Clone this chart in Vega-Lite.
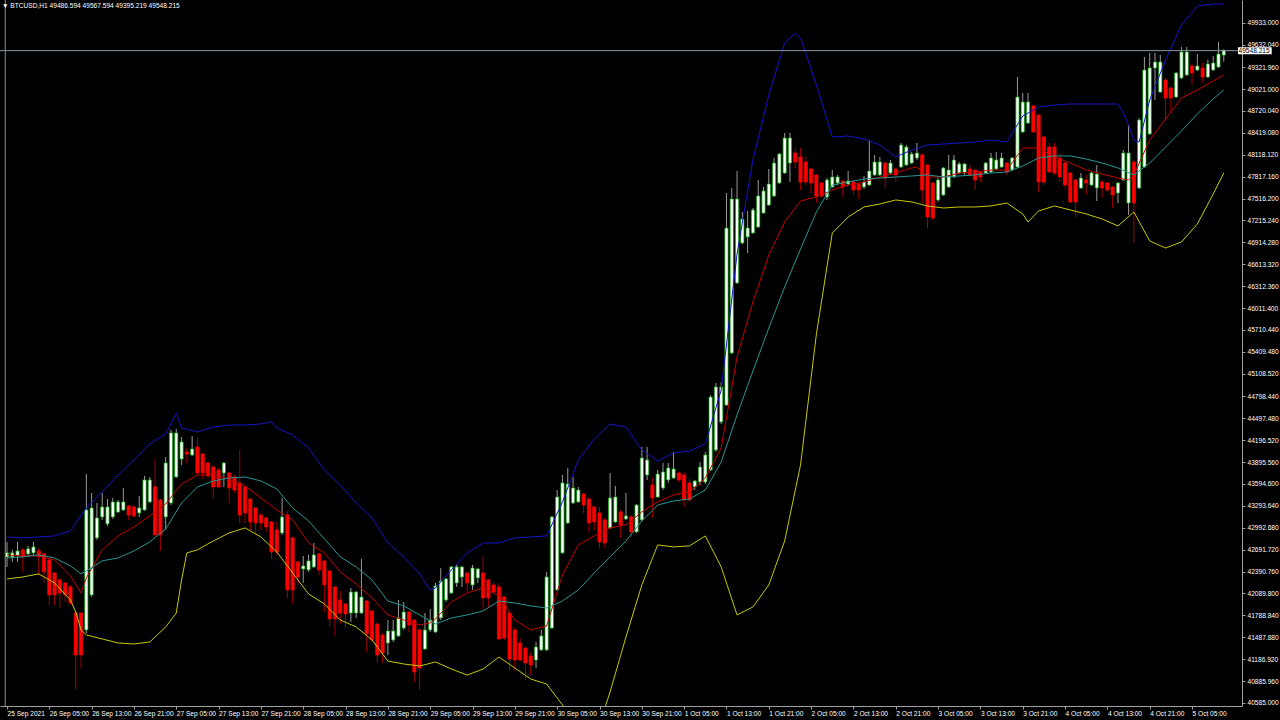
{
"$schema":"https://vega.github.io/schema/vega-lite/v6.json",
"width":1242,"height":706,
"autosize":{"type":"none"},
"padding":{"left":0,"top":0,"right":38,"bottom":14},
"background":"#000000",
"config":{"view":{"stroke":null},"font":"Liberation Sans","axis":{"labelOverlap":false,"labelBound":false}},
"title":{"text":"▼ BTCUSD,H1  49486.594 49567.594 49395.219 49548.215","anchor":"start","frame":"group","orient":"top","offset":-10,"dx":2,"color":"#ffffff","fontSize":6.6,"fontWeight":"normal","font":"Liberation Sans"},
"datasets":{
"c":[
{"t":"2021-09-25T21:00Z","o":42592,"h":42798,"l":42454,"c":42647},
{"t":"2021-09-25T22:00Z","o":42592,"h":42688,"l":42523,"c":42647},
{"t":"2021-09-25T23:00Z","o":42605,"h":42798,"l":42523,"c":42674},
{"t":"2021-09-26T00:00Z","o":42688,"h":42715,"l":42385,"c":42592},
{"t":"2021-09-26T01:00Z","o":42633,"h":42743,"l":42592,"c":42702},
{"t":"2021-09-26T02:00Z","o":42647,"h":42798,"l":42619,"c":42729},
{"t":"2021-09-26T03:00Z","o":42674,"h":42715,"l":42344,"c":42592},
{"t":"2021-09-26T04:00Z","o":42633,"h":42647,"l":42234,"c":42385},
{"t":"2021-09-26T05:00Z","o":42550,"h":42578,"l":41931,"c":42069},
{"t":"2021-09-26T06:00Z","o":42371,"h":42385,"l":41931,"c":42069},
{"t":"2021-09-26T07:00Z","o":42275,"h":42303,"l":41890,"c":42096},
{"t":"2021-09-26T08:00Z","o":42234,"h":42248,"l":41973,"c":42069},
{"t":"2021-09-26T09:00Z","o":42179,"h":42206,"l":41931,"c":41959},
{"t":"2021-09-26T10:00Z","o":41821,"h":41835,"l":40777,"c":41244},
{"t":"2021-09-26T11:00Z","o":41821,"h":41835,"l":41065,"c":41244},
{"t":"2021-09-26T12:00Z","o":41588,"h":43731,"l":41546,"c":43237},
{"t":"2021-09-26T13:00Z","o":42069,"h":43470,"l":42041,"c":43264},
{"t":"2021-09-26T14:00Z","o":42853,"h":43333,"l":42825,"c":43127},
{"t":"2021-09-26T15:00Z","o":43141,"h":43470,"l":43100,"c":43278},
{"t":"2021-09-26T16:00Z","o":43045,"h":43388,"l":43017,"c":43278},
{"t":"2021-09-26T17:00Z","o":43141,"h":43402,"l":43113,"c":43347},
{"t":"2021-09-26T18:00Z","o":43209,"h":43374,"l":43196,"c":43347},
{"t":"2021-09-26T19:00Z","o":43237,"h":43539,"l":43223,"c":43347},
{"t":"2021-09-26T20:00Z","o":43292,"h":43305,"l":43100,"c":43168},
{"t":"2021-09-26T21:00Z","o":43278,"h":43292,"l":43127,"c":43155},
{"t":"2021-09-26T22:00Z","o":43196,"h":43429,"l":43141,"c":43264},
{"t":"2021-09-26T23:00Z","o":43237,"h":43704,"l":43223,"c":43649},
{"t":"2021-09-27T00:00Z","o":43347,"h":43690,"l":43333,"c":43649},
{"t":"2021-09-27T01:00Z","o":43553,"h":43937,"l":42880,"c":42894},
{"t":"2021-09-27T02:00Z","o":43374,"h":43388,"l":42674,"c":42894},
{"t":"2021-09-27T03:00Z","o":43141,"h":43965,"l":42962,"c":43882},
{"t":"2021-09-27T04:00Z","o":43333,"h":44336,"l":43305,"c":44295},
{"t":"2021-09-27T05:00Z","o":43690,"h":44350,"l":43676,"c":44295},
{"t":"2021-09-27T06:00Z","o":43937,"h":44240,"l":43855,"c":44171},
{"t":"2021-09-27T07:00Z","o":44034,"h":44088,"l":43882,"c":44006},
{"t":"2021-09-27T08:00Z","o":43992,"h":44253,"l":43979,"c":44075},
{"t":"2021-09-27T09:00Z","o":44102,"h":44226,"l":43717,"c":43745},
{"t":"2021-09-27T10:00Z","o":44006,"h":44020,"l":43663,"c":43745},
{"t":"2021-09-27T11:00Z","o":43882,"h":43896,"l":43676,"c":43704},
{"t":"2021-09-27T12:00Z","o":43827,"h":43855,"l":43388,"c":43553},
{"t":"2021-09-27T13:00Z","o":43786,"h":43814,"l":43539,"c":43553},
{"t":"2021-09-27T14:00Z","o":43745,"h":43896,"l":43553,"c":43882},
{"t":"2021-09-27T15:00Z","o":43745,"h":43759,"l":43333,"c":43539},
{"t":"2021-09-27T16:00Z","o":43690,"h":43717,"l":43470,"c":43511},
{"t":"2021-09-27T17:00Z","o":43608,"h":44061,"l":43058,"c":43168},
{"t":"2021-09-27T18:00Z","o":43553,"h":43566,"l":43058,"c":43196},
{"t":"2021-09-27T19:00Z","o":43388,"h":43402,"l":42962,"c":43072},
{"t":"2021-09-27T20:00Z","o":43264,"h":43278,"l":42921,"c":43058},
{"t":"2021-09-27T21:00Z","o":43168,"h":43196,"l":42962,"c":43058},
{"t":"2021-09-27T22:00Z","o":43127,"h":43141,"l":42935,"c":43004},
{"t":"2021-09-27T23:00Z","o":43072,"h":43086,"l":42564,"c":42660},
{"t":"2021-09-28T00:00Z","o":42962,"h":43072,"l":42619,"c":42660},
{"t":"2021-09-28T01:00Z","o":42921,"h":43402,"l":42894,"c":43141},
{"t":"2021-09-28T02:00Z","o":43168,"h":43223,"l":42028,"c":42138},
{"t":"2021-09-28T03:00Z","o":42853,"h":42866,"l":41945,"c":42138},
{"t":"2021-09-28T04:00Z","o":42523,"h":42537,"l":42206,"c":42316},
{"t":"2021-09-28T05:00Z","o":42426,"h":42605,"l":42234,"c":42468},
{"t":"2021-09-28T06:00Z","o":42413,"h":42619,"l":42385,"c":42537},
{"t":"2021-09-28T07:00Z","o":42454,"h":42784,"l":42440,"c":42619},
{"t":"2021-09-28T08:00Z","o":42633,"h":42647,"l":42344,"c":42413},
{"t":"2021-09-28T09:00Z","o":42537,"h":42550,"l":41835,"c":42206},
{"t":"2021-09-28T10:00Z","o":42399,"h":42413,"l":41629,"c":41739},
{"t":"2021-09-28T11:00Z","o":42179,"h":42193,"l":41505,"c":41739},
{"t":"2021-09-28T12:00Z","o":42000,"h":42124,"l":41670,"c":41821},
{"t":"2021-09-28T13:00Z","o":41945,"h":41959,"l":41615,"c":41808},
{"t":"2021-09-28T14:00Z","o":41821,"h":42165,"l":41698,"c":42110},
{"t":"2021-09-28T15:00Z","o":41821,"h":42124,"l":41753,"c":42110},
{"t":"2021-09-28T16:00Z","o":41821,"h":42564,"l":41808,"c":42041},
{"t":"2021-09-28T17:00Z","o":41986,"h":42000,"l":41285,"c":41533},
{"t":"2021-09-28T18:00Z","o":41849,"h":41863,"l":41423,"c":41450},
{"t":"2021-09-28T19:00Z","o":41670,"h":41684,"l":41134,"c":41244},
{"t":"2021-09-28T20:00Z","o":41519,"h":41546,"l":41134,"c":41271},
{"t":"2021-09-28T21:00Z","o":41409,"h":41725,"l":41244,"c":41574},
{"t":"2021-09-28T22:00Z","o":41450,"h":41725,"l":41423,"c":41574},
{"t":"2021-09-28T23:00Z","o":41505,"h":42000,"l":41491,"c":41753},
{"t":"2021-09-29T00:00Z","o":41615,"h":41973,"l":41588,"c":41835},
{"t":"2021-09-29T01:00Z","o":41835,"h":41849,"l":41560,"c":41656},
{"t":"2021-09-29T02:00Z","o":41725,"h":41739,"l":40873,"c":41010},
{"t":"2021-09-29T03:00Z","o":41588,"h":41615,"l":40763,"c":41065},
{"t":"2021-09-29T04:00Z","o":41326,"h":41821,"l":41313,"c":41588},
{"t":"2021-09-29T05:00Z","o":41588,"h":41876,"l":41560,"c":41725},
{"t":"2021-09-29T06:00Z","o":41560,"h":42234,"l":41546,"c":42193},
{"t":"2021-09-29T07:00Z","o":41753,"h":42440,"l":41725,"c":42261},
{"t":"2021-09-29T08:00Z","o":42000,"h":42303,"l":41973,"c":42289},
{"t":"2021-09-29T09:00Z","o":42096,"h":42468,"l":42083,"c":42454},
{"t":"2021-09-29T10:00Z","o":42234,"h":42481,"l":42179,"c":42454},
{"t":"2021-09-29T11:00Z","o":42316,"h":42468,"l":42179,"c":42454},
{"t":"2021-09-29T12:00Z","o":42371,"h":42385,"l":42110,"c":42234},
{"t":"2021-09-29T13:00Z","o":42206,"h":42481,"l":42138,"c":42440},
{"t":"2021-09-29T14:00Z","o":42303,"h":42440,"l":42234,"c":42426},
{"t":"2021-09-29T15:00Z","o":42371,"h":42592,"l":41863,"c":42028},
{"t":"2021-09-29T16:00Z","o":42275,"h":42289,"l":41890,"c":42028},
{"t":"2021-09-29T17:00Z","o":42206,"h":42234,"l":42096,"c":42110},
{"t":"2021-09-29T18:00Z","o":42179,"h":42234,"l":41450,"c":41464},
{"t":"2021-09-29T19:00Z","o":42041,"h":42055,"l":41450,"c":41478},
{"t":"2021-09-29T20:00Z","o":41821,"h":41835,"l":41038,"c":41189},
{"t":"2021-09-29T21:00Z","o":41588,"h":41629,"l":41038,"c":41175},
{"t":"2021-09-29T22:00Z","o":41409,"h":41478,"l":41161,"c":41175},
{"t":"2021-09-29T23:00Z","o":41340,"h":41354,"l":40900,"c":41134},
{"t":"2021-09-30T00:00Z","o":41230,"h":41285,"l":40968,"c":41106},
{"t":"2021-09-30T01:00Z","o":41175,"h":41423,"l":41065,"c":41354},
{"t":"2021-09-30T02:00Z","o":41313,"h":41588,"l":41299,"c":41505},
{"t":"2021-09-30T03:00Z","o":41313,"h":42385,"l":41299,"c":42316},
{"t":"2021-09-30T04:00Z","o":41615,"h":43155,"l":41601,"c":43141},
{"t":"2021-09-30T05:00Z","o":42138,"h":43511,"l":42124,"c":43415},
{"t":"2021-09-30T06:00Z","o":42647,"h":43717,"l":42633,"c":43608},
{"t":"2021-09-30T07:00Z","o":43058,"h":43814,"l":43045,"c":43594},
{"t":"2021-09-30T08:00Z","o":43333,"h":43690,"l":43319,"c":43539},
{"t":"2021-09-30T09:00Z","o":43347,"h":43553,"l":43333,"c":43511},
{"t":"2021-09-30T10:00Z","o":43456,"h":43470,"l":43196,"c":43305},
{"t":"2021-09-30T11:00Z","o":43388,"h":43415,"l":42921,"c":43058},
{"t":"2021-09-30T12:00Z","o":43278,"h":43292,"l":42962,"c":43072},
{"t":"2021-09-30T13:00Z","o":43196,"h":43278,"l":42715,"c":42798},
{"t":"2021-09-30T14:00Z","o":43100,"h":43127,"l":42715,"c":42784},
{"t":"2021-09-30T15:00Z","o":42990,"h":43745,"l":42976,"c":43402},
{"t":"2021-09-30T16:00Z","o":43072,"h":43566,"l":43058,"c":43415},
{"t":"2021-09-30T17:00Z","o":43209,"h":43237,"l":42853,"c":43031},
{"t":"2021-09-30T18:00Z","o":43113,"h":43470,"l":43100,"c":43155},
{"t":"2021-09-30T19:00Z","o":43141,"h":43168,"l":42866,"c":42935},
{"t":"2021-09-30T20:00Z","o":42935,"h":43319,"l":42921,"c":43305},
{"t":"2021-09-30T21:00Z","o":43100,"h":44102,"l":43086,"c":43951},
{"t":"2021-09-30T22:00Z","o":43717,"h":44102,"l":43649,"c":43924},
{"t":"2021-09-30T23:00Z","o":43580,"h":43676,"l":43127,"c":43402},
{"t":"2021-10-01T00:00Z","o":43415,"h":43786,"l":43402,"c":43731},
{"t":"2021-10-01T01:00Z","o":43539,"h":43882,"l":43511,"c":43759},
{"t":"2021-10-01T02:00Z","o":43649,"h":43882,"l":43608,"c":43814},
{"t":"2021-10-01T03:00Z","o":43676,"h":44034,"l":43663,"c":43800},
{"t":"2021-10-01T04:00Z","o":43745,"h":43759,"l":43621,"c":43649},
{"t":"2021-10-01T05:00Z","o":43717,"h":43759,"l":43278,"c":43374},
{"t":"2021-10-01T06:00Z","o":43608,"h":43663,"l":43347,"c":43374},
{"t":"2021-10-01T07:00Z","o":43553,"h":43649,"l":43511,"c":43635},
{"t":"2021-10-01T08:00Z","o":43621,"h":43896,"l":43580,"c":43827},
{"t":"2021-10-01T09:00Z","o":43621,"h":44034,"l":43594,"c":43992},
{"t":"2021-10-01T10:00Z","o":43786,"h":44817,"l":43772,"c":44789},
{"t":"2021-10-01T11:00Z","o":44061,"h":44982,"l":44034,"c":44927},
{"t":"2021-10-01T12:00Z","o":44446,"h":44995,"l":44418,"c":44927},
{"t":"2021-10-01T13:00Z","o":44679,"h":47592,"l":44666,"c":47111},
{"t":"2021-10-01T14:00Z","o":45394,"h":47661,"l":45380,"c":47510},
{"t":"2021-10-01T15:00Z","o":46356,"h":47894,"l":46342,"c":47510},
{"t":"2021-10-01T16:00Z","o":46905,"h":47331,"l":46891,"c":47235},
{"t":"2021-10-01T17:00Z","o":46988,"h":47345,"l":46768,"c":47111},
{"t":"2021-10-01T18:00Z","o":47043,"h":47386,"l":47029,"c":47359},
{"t":"2021-10-01T19:00Z","o":47125,"h":47771,"l":47111,"c":47551},
{"t":"2021-10-01T20:00Z","o":47317,"h":47675,"l":47304,"c":47620},
{"t":"2021-10-01T21:00Z","o":47427,"h":47922,"l":47414,"c":47716},
{"t":"2021-10-01T22:00Z","o":47551,"h":48073,"l":47537,"c":48004},
{"t":"2021-10-01T23:00Z","o":47730,"h":48142,"l":47716,"c":48128},
{"t":"2021-10-02T00:00Z","o":47867,"h":48417,"l":47853,"c":48348},
{"t":"2021-10-02T01:00Z","o":48004,"h":48417,"l":47743,"c":48348},
{"t":"2021-10-02T02:00Z","o":48142,"h":48210,"l":47936,"c":48018},
{"t":"2021-10-02T03:00Z","o":48087,"h":48210,"l":47633,"c":47743},
{"t":"2021-10-02T04:00Z","o":48018,"h":48087,"l":47702,"c":47743},
{"t":"2021-10-02T05:00Z","o":47922,"h":47936,"l":47592,"c":47730},
{"t":"2021-10-02T06:00Z","o":47840,"h":47853,"l":47455,"c":47551},
{"t":"2021-10-02T07:00Z","o":47730,"h":47743,"l":47523,"c":47551},
{"t":"2021-10-02T08:00Z","o":47537,"h":47798,"l":47496,"c":47771},
{"t":"2021-10-02T09:00Z","o":47675,"h":47908,"l":47661,"c":47812},
{"t":"2021-10-02T10:00Z","o":47730,"h":47840,"l":47702,"c":47812},
{"t":"2021-10-02T11:00Z","o":47757,"h":47771,"l":47537,"c":47675},
{"t":"2021-10-02T12:00Z","o":47716,"h":47894,"l":47688,"c":47757},
{"t":"2021-10-02T13:00Z","o":47743,"h":47771,"l":47565,"c":47633},
{"t":"2021-10-02T14:00Z","o":47716,"h":47730,"l":47510,"c":47633},
{"t":"2021-10-02T15:00Z","o":47675,"h":47826,"l":47647,"c":47743},
{"t":"2021-10-02T16:00Z","o":47702,"h":48320,"l":47688,"c":47894},
{"t":"2021-10-02T17:00Z","o":47840,"h":48114,"l":47826,"c":48018},
{"t":"2021-10-02T18:00Z","o":47840,"h":48087,"l":47826,"c":48018},
{"t":"2021-10-02T19:00Z","o":48004,"h":48018,"l":47661,"c":47798},
{"t":"2021-10-02T20:00Z","o":47867,"h":48046,"l":47853,"c":48004},
{"t":"2021-10-02T21:00Z","o":47922,"h":47936,"l":47743,"c":47840},
{"t":"2021-10-02T22:00Z","o":47949,"h":48279,"l":47936,"c":48252},
{"t":"2021-10-02T23:00Z","o":47977,"h":48252,"l":47963,"c":48224},
{"t":"2021-10-03T00:00Z","o":48004,"h":48155,"l":47991,"c":48128},
{"t":"2021-10-03T01:00Z","o":48073,"h":48279,"l":48046,"c":48142},
{"t":"2021-10-03T02:00Z","o":48114,"h":48142,"l":47455,"c":47633},
{"t":"2021-10-03T03:00Z","o":47977,"h":47991,"l":47111,"c":47262},
{"t":"2021-10-03T04:00Z","o":47730,"h":47743,"l":47221,"c":47249},
{"t":"2021-10-03T05:00Z","o":47496,"h":47798,"l":47469,"c":47771},
{"t":"2021-10-03T06:00Z","o":47565,"h":47949,"l":47551,"c":47936},
{"t":"2021-10-03T07:00Z","o":47675,"h":48114,"l":47661,"c":47908},
{"t":"2021-10-03T08:00Z","o":47812,"h":48114,"l":47798,"c":48046},
{"t":"2021-10-03T09:00Z","o":47867,"h":48018,"l":47853,"c":47991},
{"t":"2021-10-03T10:00Z","o":47867,"h":48004,"l":47840,"c":47991},
{"t":"2021-10-03T11:00Z","o":47922,"h":47977,"l":47826,"c":47840},
{"t":"2021-10-03T12:00Z","o":47908,"h":47922,"l":47633,"c":47771},
{"t":"2021-10-03T13:00Z","o":47881,"h":47894,"l":47743,"c":47812},
{"t":"2021-10-03T14:00Z","o":47867,"h":48018,"l":47853,"c":48004},
{"t":"2021-10-03T15:00Z","o":47881,"h":48142,"l":47867,"c":48073},
{"t":"2021-10-03T16:00Z","o":47922,"h":48155,"l":47908,"c":48046},
{"t":"2021-10-03T17:00Z","o":47949,"h":48142,"l":47936,"c":48073},
{"t":"2021-10-03T18:00Z","o":48004,"h":48018,"l":47840,"c":47881},
{"t":"2021-10-03T19:00Z","o":47908,"h":48087,"l":47894,"c":48073},
{"t":"2021-10-03T20:00Z","o":47949,"h":49186,"l":47936,"c":48911},
{"t":"2021-10-03T21:00Z","o":48430,"h":48966,"l":48417,"c":48843},
{"t":"2021-10-03T22:00Z","o":48554,"h":48966,"l":48540,"c":48843},
{"t":"2021-10-03T23:00Z","o":48788,"h":48801,"l":48417,"c":48430},
{"t":"2021-10-04T00:00Z","o":48664,"h":48678,"l":47606,"c":47743},
{"t":"2021-10-04T01:00Z","o":48362,"h":48375,"l":47702,"c":47743},
{"t":"2021-10-04T02:00Z","o":48224,"h":48279,"l":47867,"c":47881},
{"t":"2021-10-04T03:00Z","o":48224,"h":48279,"l":47840,"c":47867},
{"t":"2021-10-04T04:00Z","o":48073,"h":48142,"l":47743,"c":47812},
{"t":"2021-10-04T05:00Z","o":48004,"h":48018,"l":47661,"c":47702},
{"t":"2021-10-04T06:00Z","o":47867,"h":47881,"l":47455,"c":47469},
{"t":"2021-10-04T07:00Z","o":47771,"h":47785,"l":47262,"c":47469},
{"t":"2021-10-04T08:00Z","o":47661,"h":47867,"l":47647,"c":47798},
{"t":"2021-10-04T09:00Z","o":47771,"h":47840,"l":47565,"c":47730},
{"t":"2021-10-04T10:00Z","o":47702,"h":47881,"l":47688,"c":47867},
{"t":"2021-10-04T11:00Z","o":47661,"h":47977,"l":47482,"c":47853},
{"t":"2021-10-04T12:00Z","o":47743,"h":47771,"l":47523,"c":47661},
{"t":"2021-10-04T13:00Z","o":47730,"h":47743,"l":47606,"c":47633},
{"t":"2021-10-04T14:00Z","o":47675,"h":47688,"l":47386,"c":47565},
{"t":"2021-10-04T15:00Z","o":47592,"h":47743,"l":47455,"c":47730},
{"t":"2021-10-04T16:00Z","o":47771,"h":48183,"l":47757,"c":48142},
{"t":"2021-10-04T17:00Z","o":47455,"h":48526,"l":47290,"c":48142},
{"t":"2021-10-04T18:00Z","o":48018,"h":48046,"l":46905,"c":47455},
{"t":"2021-10-04T19:00Z","o":47661,"h":48623,"l":47647,"c":48595},
{"t":"2021-10-04T20:00Z","o":47949,"h":49461,"l":47936,"c":49282},
{"t":"2021-10-04T21:00Z","o":48403,"h":49516,"l":48389,"c":49310},
{"t":"2021-10-04T22:00Z","o":49310,"h":49516,"l":48870,"c":49392},
{"t":"2021-10-04T23:00Z","o":48980,"h":49488,"l":48966,"c":49392},
{"t":"2021-10-05T00:00Z","o":49145,"h":49172,"l":48595,"c":48897},
{"t":"2021-10-05T01:00Z","o":49035,"h":49049,"l":48691,"c":48897},
{"t":"2021-10-05T02:00Z","o":48911,"h":49255,"l":48897,"c":49241},
{"t":"2021-10-05T03:00Z","o":49172,"h":49598,"l":49159,"c":49530},
{"t":"2021-10-05T04:00Z","o":49214,"h":49598,"l":49200,"c":49530},
{"t":"2021-10-05T05:00Z","o":49337,"h":49378,"l":49076,"c":49241},
{"t":"2021-10-05T06:00Z","o":49282,"h":49502,"l":49268,"c":49337},
{"t":"2021-10-05T07:00Z","o":49310,"h":49378,"l":49117,"c":49186},
{"t":"2021-10-05T08:00Z","o":49186,"h":49420,"l":49172,"c":49365},
{"t":"2021-10-05T09:00Z","o":49282,"h":49475,"l":49268,"c":49378},
{"t":"2021-10-05T10:00Z","o":49323,"h":49667,"l":49310,"c":49502},
{"t":"2021-10-05T11:00Z","o":49486.594,"h":49567.594,"l":49395.219,"c":49548.215}
],
"b":[
{"s":"u","t":"2021-09-25T21:00Z","v":42866},{"s":"u","t":"2021-09-26T00:00Z","v":42853},{"s":"u","t":"2021-09-26T03:00Z","v":42866},{"s":"u","t":"2021-09-26T06:00Z","v":42880},{"s":"u","t":"2021-09-26T09:00Z","v":42949},{"s":"u","t":"2021-09-26T12:00Z","v":43264},{"s":"u","t":"2021-09-26T15:00Z","v":43484},{"s":"u","t":"2021-09-26T18:00Z","v":43717},{"s":"u","t":"2021-09-26T21:00Z","v":43924},{"s":"u","t":"2021-09-27T00:00Z","v":44144},{"s":"u","t":"2021-09-27T03:00Z","v":44281},{"s":"u","t":"2021-09-27T05:00Z","v":44570},{"s":"u","t":"2021-09-27T06:00Z","v":44363},{"s":"u","t":"2021-09-27T09:00Z","v":44308},{"s":"u","t":"2021-09-27T12:00Z","v":44377},{"s":"u","t":"2021-09-27T15:00Z","v":44404},{"s":"u","t":"2021-09-27T18:00Z","v":44404},{"s":"u","t":"2021-09-27T21:00Z","v":44418},{"s":"u","t":"2021-09-27T23:00Z","v":44446},{"s":"u","t":"2021-09-28T00:00Z","v":44363},{"s":"u","t":"2021-09-28T03:00Z","v":44267},{"s":"u","t":"2021-09-28T06:00Z","v":44088},{"s":"u","t":"2021-09-28T09:00Z","v":43786},{"s":"u","t":"2021-09-28T12:00Z","v":43580},{"s":"u","t":"2021-09-28T15:00Z","v":43333},{"s":"u","t":"2021-09-28T18:00Z","v":43127},{"s":"u","t":"2021-09-28T21:00Z","v":42784},{"s":"u","t":"2021-09-29T00:00Z","v":42592},{"s":"u","t":"2021-09-29T03:00Z","v":42358},{"s":"u","t":"2021-09-29T05:00Z","v":42138},{"s":"u","t":"2021-09-29T06:00Z","v":42165},{"s":"u","t":"2021-09-29T09:00Z","v":42413},{"s":"u","t":"2021-09-29T12:00Z","v":42647},{"s":"u","t":"2021-09-29T15:00Z","v":42784},{"s":"u","t":"2021-09-29T18:00Z","v":42784},{"s":"u","t":"2021-09-29T21:00Z","v":42853},{"s":"u","t":"2021-09-30T00:00Z","v":42866},{"s":"u","t":"2021-09-30T03:00Z","v":42880},{"s":"u","t":"2021-09-30T06:00Z","v":43347},{"s":"u","t":"2021-09-30T09:00Z","v":43924},{"s":"u","t":"2021-09-30T12:00Z","v":44212},{"s":"u","t":"2021-09-30T15:00Z","v":44418},{"s":"u","t":"2021-09-30T18:00Z","v":44377},{"s":"u","t":"2021-09-30T21:00Z","v":44061},{"s":"u","t":"2021-10-01T00:00Z","v":43910},{"s":"u","t":"2021-10-01T03:00Z","v":44020},{"s":"u","t":"2021-10-01T06:00Z","v":44047},{"s":"u","t":"2021-10-01T09:00Z","v":44144},{"s":"u","t":"2021-10-01T12:00Z","v":44885},{"s":"u","t":"2021-10-01T15:00Z","v":46754},{"s":"u","t":"2021-10-01T18:00Z","v":48046},{"s":"u","t":"2021-10-01T21:00Z","v":48939},{"s":"u","t":"2021-10-02T00:00Z","v":49653},{"s":"u","t":"2021-10-02T02:00Z","v":49791},{"s":"u","t":"2021-10-02T03:00Z","v":49722},{"s":"u","t":"2021-10-02T06:00Z","v":49076},{"s":"u","t":"2021-10-02T09:00Z","v":48362},{"s":"u","t":"2021-10-02T12:00Z","v":48375},{"s":"u","t":"2021-10-02T15:00Z","v":48334},{"s":"u","t":"2021-10-02T18:00Z","v":48252},{"s":"u","t":"2021-10-02T21:00Z","v":48087},{"s":"u","t":"2021-10-03T00:00Z","v":48183},{"s":"u","t":"2021-10-03T03:00Z","v":48252},{"s":"u","t":"2021-10-03T06:00Z","v":48265},{"s":"u","t":"2021-10-03T09:00Z","v":48279},{"s":"u","t":"2021-10-03T12:00Z","v":48293},{"s":"u","t":"2021-10-03T15:00Z","v":48320},{"s":"u","t":"2021-10-03T18:00Z","v":48293},{"s":"u","t":"2021-10-03T21:00Z","v":48650},{"s":"u","t":"2021-10-04T00:00Z","v":48774},{"s":"u","t":"2021-10-04T03:00Z","v":48801},{"s":"u","t":"2021-10-04T06:00Z","v":48815},{"s":"u","t":"2021-10-04T09:00Z","v":48815},{"s":"u","t":"2021-10-04T12:00Z","v":48815},{"s":"u","t":"2021-10-04T15:00Z","v":48815},{"s":"u","t":"2021-10-04T16:00Z","v":48691},{"s":"u","t":"2021-10-04T17:00Z","v":48526},{"s":"u","t":"2021-10-04T18:00Z","v":48320},{"s":"u","t":"2021-10-04T19:00Z","v":48293},{"s":"u","t":"2021-10-04T21:00Z","v":48870},{"s":"u","t":"2021-10-05T00:00Z","v":49420},{"s":"u","t":"2021-10-05T03:00Z","v":49900},{"s":"u","t":"2021-10-05T06:00Z","v":50162},{"s":"u","t":"2021-10-05T09:00Z","v":50189},{"s":"u","t":"2021-10-05T11:00Z","v":50189},
{"s":"r","t":"2021-09-25T21:00Z","v":42619},{"s":"r","t":"2021-09-26T00:00Z","v":42605},{"s":"r","t":"2021-09-26T03:00Z","v":42605},{"s":"r","t":"2021-09-26T06:00Z","v":42550},{"s":"r","t":"2021-09-26T09:00Z","v":42330},{"s":"r","t":"2021-09-26T11:00Z","v":42096},{"s":"r","t":"2021-09-26T12:00Z","v":42303},{"s":"r","t":"2021-09-26T15:00Z","v":42688},{"s":"r","t":"2021-09-26T18:00Z","v":42880},{"s":"r","t":"2021-09-26T21:00Z","v":43004},{"s":"r","t":"2021-09-27T00:00Z","v":43155},{"s":"r","t":"2021-09-27T03:00Z","v":43319},{"s":"r","t":"2021-09-27T06:00Z","v":43594},{"s":"r","t":"2021-09-27T09:00Z","v":43717},{"s":"r","t":"2021-09-27T12:00Z","v":43717},{"s":"r","t":"2021-09-27T15:00Z","v":43663},{"s":"r","t":"2021-09-27T18:00Z","v":43566},{"s":"r","t":"2021-09-27T21:00Z","v":43402},{"s":"r","t":"2021-09-28T00:00Z","v":43237},{"s":"r","t":"2021-09-28T03:00Z","v":43100},{"s":"r","t":"2021-09-28T06:00Z","v":42784},{"s":"r","t":"2021-09-28T09:00Z","v":42647},{"s":"r","t":"2021-09-28T12:00Z","v":42385},{"s":"r","t":"2021-09-28T15:00Z","v":42220},{"s":"r","t":"2021-09-28T18:00Z","v":42028},{"s":"r","t":"2021-09-28T21:00Z","v":41794},{"s":"r","t":"2021-09-29T00:00Z","v":41725},{"s":"r","t":"2021-09-29T03:00Z","v":41656},{"s":"r","t":"2021-09-29T05:00Z","v":41684},{"s":"r","t":"2021-09-29T06:00Z","v":41739},{"s":"r","t":"2021-09-29T09:00Z","v":41973},{"s":"r","t":"2021-09-29T12:00Z","v":42096},{"s":"r","t":"2021-09-29T15:00Z","v":42165},{"s":"r","t":"2021-09-29T18:00Z","v":42055},{"s":"r","t":"2021-09-29T21:00Z","v":41725},{"s":"r","t":"2021-09-30T00:00Z","v":41588},{"s":"r","t":"2021-09-30T03:00Z","v":41643},{"s":"r","t":"2021-09-30T06:00Z","v":42344},{"s":"r","t":"2021-09-30T09:00Z","v":42756},{"s":"r","t":"2021-09-30T12:00Z","v":42880},{"s":"r","t":"2021-09-30T15:00Z","v":42990},{"s":"r","t":"2021-09-30T18:00Z","v":43031},{"s":"r","t":"2021-09-30T21:00Z","v":43209},{"s":"r","t":"2021-10-01T00:00Z","v":43347},{"s":"r","t":"2021-10-01T03:00Z","v":43443},{"s":"r","t":"2021-10-01T06:00Z","v":43484},{"s":"r","t":"2021-10-01T09:00Z","v":43676},{"s":"r","t":"2021-10-01T12:00Z","v":44088},{"s":"r","t":"2021-10-01T15:00Z","v":45339},{"s":"r","t":"2021-10-01T18:00Z","v":46095},{"s":"r","t":"2021-10-01T21:00Z","v":46740},{"s":"r","t":"2021-10-02T00:00Z","v":47194},{"s":"r","t":"2021-10-02T03:00Z","v":47482},{"s":"r","t":"2021-10-02T06:00Z","v":47537},{"s":"r","t":"2021-10-02T09:00Z","v":47633},{"s":"r","t":"2021-10-02T12:00Z","v":47702},{"s":"r","t":"2021-10-02T15:00Z","v":47743},{"s":"r","t":"2021-10-02T18:00Z","v":47812},{"s":"r","t":"2021-10-02T21:00Z","v":47867},{"s":"r","t":"2021-10-03T00:00Z","v":47936},{"s":"r","t":"2021-10-03T01:00Z","v":47949},{"s":"r","t":"2021-10-03T03:00Z","v":47812},{"s":"r","t":"2021-10-03T06:00Z","v":47812},{"s":"r","t":"2021-10-03T09:00Z","v":47867},{"s":"r","t":"2021-10-03T12:00Z","v":47881},{"s":"r","t":"2021-10-03T15:00Z","v":47908},{"s":"r","t":"2021-10-03T18:00Z","v":47908},{"s":"r","t":"2021-10-03T21:00Z","v":48210},{"s":"r","t":"2021-10-04T00:00Z","v":48210},{"s":"r","t":"2021-10-04T03:00Z","v":48087},{"s":"r","t":"2021-10-04T06:00Z","v":48004},{"s":"r","t":"2021-10-04T09:00Z","v":47908},{"s":"r","t":"2021-10-04T12:00Z","v":47853},{"s":"r","t":"2021-10-04T15:00Z","v":47798},{"s":"r","t":"2021-10-04T17:00Z","v":47771},{"s":"r","t":"2021-10-04T18:00Z","v":47840},{"s":"r","t":"2021-10-04T21:00Z","v":48320},{"s":"r","t":"2021-10-05T00:00Z","v":48609},{"s":"r","t":"2021-10-05T03:00Z","v":48897},{"s":"r","t":"2021-10-05T06:00Z","v":49007},{"s":"r","t":"2021-10-05T09:00Z","v":49131},{"s":"r","t":"2021-10-05T11:00Z","v":49214},
{"s":"m","t":"2021-09-25T21:00Z","v":42578},{"s":"m","t":"2021-09-26T00:00Z","v":42592},{"s":"m","t":"2021-09-26T03:00Z","v":42619},{"s":"m","t":"2021-09-26T06:00Z","v":42578},{"s":"m","t":"2021-09-26T09:00Z","v":42468},{"s":"m","t":"2021-09-26T11:00Z","v":42358},{"s":"m","t":"2021-09-26T12:00Z","v":42399},{"s":"m","t":"2021-09-26T15:00Z","v":42537},{"s":"m","t":"2021-09-26T18:00Z","v":42578},{"s":"m","t":"2021-09-26T21:00Z","v":42674},{"s":"m","t":"2021-09-27T00:00Z","v":42798},{"s":"m","t":"2021-09-27T03:00Z","v":42976},{"s":"m","t":"2021-09-27T06:00Z","v":43333},{"s":"m","t":"2021-09-27T09:00Z","v":43553},{"s":"m","t":"2021-09-27T12:00Z","v":43635},{"s":"m","t":"2021-09-27T15:00Z","v":43676},{"s":"m","t":"2021-09-27T18:00Z","v":43690},{"s":"m","t":"2021-09-27T21:00Z","v":43635},{"s":"m","t":"2021-09-28T00:00Z","v":43525},{"s":"m","t":"2021-09-28T03:00Z","v":43264},{"s":"m","t":"2021-09-28T06:00Z","v":43086},{"s":"m","t":"2021-09-28T09:00Z","v":42839},{"s":"m","t":"2021-09-28T12:00Z","v":42592},{"s":"m","t":"2021-09-28T15:00Z","v":42454},{"s":"m","t":"2021-09-28T18:00Z","v":42275},{"s":"m","t":"2021-09-28T21:00Z","v":41986},{"s":"m","t":"2021-09-29T00:00Z","v":41918},{"s":"m","t":"2021-09-29T03:00Z","v":41794},{"s":"m","t":"2021-09-29T06:00Z","v":41670},{"s":"m","t":"2021-09-29T09:00Z","v":41753},{"s":"m","t":"2021-09-29T12:00Z","v":41794},{"s":"m","t":"2021-09-29T15:00Z","v":41849},{"s":"m","t":"2021-09-29T18:00Z","v":41986},{"s":"m","t":"2021-09-29T21:00Z","v":41959},{"s":"m","t":"2021-09-30T00:00Z","v":41918},{"s":"m","t":"2021-09-30T03:00Z","v":41890},{"s":"m","t":"2021-09-30T06:00Z","v":41986},{"s":"m","t":"2021-09-30T09:00Z","v":42138},{"s":"m","t":"2021-09-30T12:00Z","v":42371},{"s":"m","t":"2021-09-30T15:00Z","v":42592},{"s":"m","t":"2021-09-30T18:00Z","v":42811},{"s":"m","t":"2021-09-30T21:00Z","v":43086},{"s":"m","t":"2021-10-01T00:00Z","v":43305},{"s":"m","t":"2021-10-01T03:00Z","v":43360},{"s":"m","t":"2021-10-01T06:00Z","v":43388},{"s":"m","t":"2021-10-01T09:00Z","v":43511},{"s":"m","t":"2021-10-01T12:00Z","v":43896},{"s":"m","t":"2021-10-01T15:00Z","v":44542},{"s":"m","t":"2021-10-01T18:00Z","v":45147},{"s":"m","t":"2021-10-01T21:00Z","v":45737},{"s":"m","t":"2021-10-02T00:00Z","v":46301},{"s":"m","t":"2021-10-02T03:00Z","v":46823},{"s":"m","t":"2021-10-02T06:00Z","v":47331},{"s":"m","t":"2021-10-02T09:00Z","v":47702},{"s":"m","t":"2021-10-02T12:00Z","v":47743},{"s":"m","t":"2021-10-02T15:00Z","v":47785},{"s":"m","t":"2021-10-02T18:00Z","v":47798},{"s":"m","t":"2021-10-02T21:00Z","v":47812},{"s":"m","t":"2021-10-03T00:00Z","v":47826},{"s":"m","t":"2021-10-03T03:00Z","v":47840},{"s":"m","t":"2021-10-03T06:00Z","v":47812},{"s":"m","t":"2021-10-03T09:00Z","v":47826},{"s":"m","t":"2021-10-03T12:00Z","v":47840},{"s":"m","t":"2021-10-03T15:00Z","v":47867},{"s":"m","t":"2021-10-03T18:00Z","v":47881},{"s":"m","t":"2021-10-03T21:00Z","v":47963},{"s":"m","t":"2021-10-04T00:00Z","v":48073},{"s":"m","t":"2021-10-04T03:00Z","v":48101},{"s":"m","t":"2021-10-04T06:00Z","v":48101},{"s":"m","t":"2021-10-04T09:00Z","v":48059},{"s":"m","t":"2021-10-04T12:00Z","v":48004},{"s":"m","t":"2021-10-04T15:00Z","v":47936},{"s":"m","t":"2021-10-04T18:00Z","v":47840},{"s":"m","t":"2021-10-04T21:00Z","v":48004},{"s":"m","t":"2021-10-05T00:00Z","v":48224},{"s":"m","t":"2021-10-05T03:00Z","v":48444},{"s":"m","t":"2021-10-05T06:00Z","v":48678},{"s":"m","t":"2021-10-05T09:00Z","v":48884},{"s":"m","t":"2021-10-05T11:00Z","v":49007},
{"s":"l","t":"2021-09-25T21:00Z","v":42289},{"s":"l","t":"2021-09-26T00:00Z","v":42316},{"s":"l","t":"2021-09-26T03:00Z","v":42358},{"s":"l","t":"2021-09-26T06:00Z","v":42234},{"s":"l","t":"2021-09-26T09:00Z","v":42000},{"s":"l","t":"2021-09-26T10:00Z","v":41835},{"s":"l","t":"2021-09-26T11:00Z","v":41588},{"s":"l","t":"2021-09-26T12:00Z","v":41519},{"s":"l","t":"2021-09-26T15:00Z","v":41464},{"s":"l","t":"2021-09-26T18:00Z","v":41409},{"s":"l","t":"2021-09-26T21:00Z","v":41395},{"s":"l","t":"2021-09-27T00:00Z","v":41423},{"s":"l","t":"2021-09-27T03:00Z","v":41629},{"s":"l","t":"2021-09-27T05:00Z","v":41821},{"s":"l","t":"2021-09-27T06:00Z","v":42275},{"s":"l","t":"2021-09-27T07:00Z","v":42647},{"s":"l","t":"2021-09-27T09:00Z","v":42688},{"s":"l","t":"2021-09-27T12:00Z","v":42811},{"s":"l","t":"2021-09-27T15:00Z","v":42921},{"s":"l","t":"2021-09-27T18:00Z","v":42990},{"s":"l","t":"2021-09-27T21:00Z","v":42866},{"s":"l","t":"2021-09-28T00:00Z","v":42660},{"s":"l","t":"2021-09-28T03:00Z","v":42371},{"s":"l","t":"2021-09-28T06:00Z","v":42083},{"s":"l","t":"2021-09-28T09:00Z","v":41945},{"s":"l","t":"2021-09-28T12:00Z","v":41725},{"s":"l","t":"2021-09-28T15:00Z","v":41629},{"s":"l","t":"2021-09-28T18:00Z","v":41450},{"s":"l","t":"2021-09-28T21:00Z","v":41161},{"s":"l","t":"2021-09-29T00:00Z","v":41120},{"s":"l","t":"2021-09-29T03:00Z","v":41093},{"s":"l","t":"2021-09-29T06:00Z","v":41148},{"s":"l","t":"2021-09-29T09:00Z","v":41051},{"s":"l","t":"2021-09-29T12:00Z","v":40968},{"s":"l","t":"2021-09-29T15:00Z","v":41051},{"s":"l","t":"2021-09-29T18:00Z","v":41216},{"s":"l","t":"2021-09-29T21:00Z","v":41065},{"s":"l","t":"2021-09-30T00:00Z","v":40914},{"s":"l","t":"2021-09-30T03:00Z","v":40845},{"s":"l","t":"2021-09-30T06:00Z","v":40557},{"s":"l","t":"2021-09-30T09:00Z","v":40213},{"s":"l","t":"2021-09-30T12:00Z","v":40076},{"s":"l","t":"2021-09-30T15:00Z","v":40735},{"s":"l","t":"2021-09-30T18:00Z","v":41491},{"s":"l","t":"2021-09-30T21:00Z","v":42206},{"s":"l","t":"2021-10-01T00:00Z","v":42756},{"s":"l","t":"2021-10-01T03:00Z","v":42729},{"s":"l","t":"2021-10-01T06:00Z","v":42743},{"s":"l","t":"2021-10-01T09:00Z","v":42880},{"s":"l","t":"2021-10-01T12:00Z","v":42454},{"s":"l","t":"2021-10-01T15:00Z","v":41794},{"s":"l","t":"2021-10-01T18:00Z","v":41904},{"s":"l","t":"2021-10-01T21:00Z","v":42206},{"s":"l","t":"2021-10-02T00:00Z","v":42811},{"s":"l","t":"2021-10-02T03:00Z","v":43855},{"s":"l","t":"2021-10-02T06:00Z","v":45655},{"s":"l","t":"2021-10-02T09:00Z","v":47043},{"s":"l","t":"2021-10-02T12:00Z","v":47262},{"s":"l","t":"2021-10-02T15:00Z","v":47400},{"s":"l","t":"2021-10-02T18:00Z","v":47441},{"s":"l","t":"2021-10-02T21:00Z","v":47496},{"s":"l","t":"2021-10-03T00:00Z","v":47469},{"s":"l","t":"2021-10-03T03:00Z","v":47414},{"s":"l","t":"2021-10-03T06:00Z","v":47386},{"s":"l","t":"2021-10-03T09:00Z","v":47400},{"s":"l","t":"2021-10-03T12:00Z","v":47400},{"s":"l","t":"2021-10-03T15:00Z","v":47414},{"s":"l","t":"2021-10-03T18:00Z","v":47455},{"s":"l","t":"2021-10-03T21:00Z","v":47304},{"s":"l","t":"2021-10-03T22:00Z","v":47194},{"s":"l","t":"2021-10-04T00:00Z","v":47345},{"s":"l","t":"2021-10-04T03:00Z","v":47414},{"s":"l","t":"2021-10-04T06:00Z","v":47359},{"s":"l","t":"2021-10-04T09:00Z","v":47304},{"s":"l","t":"2021-10-04T12:00Z","v":47235},{"s":"l","t":"2021-10-04T15:00Z","v":47139},{"s":"l","t":"2021-10-04T18:00Z","v":47331},{"s":"l","t":"2021-10-04T21:00Z","v":46933},{"s":"l","t":"2021-10-05T00:00Z","v":46836},{"s":"l","t":"2021-10-05T03:00Z","v":46919},{"s":"l","t":"2021-10-05T06:00Z","v":47166},{"s":"l","t":"2021-10-05T09:00Z","v":47578},{"s":"l","t":"2021-10-05T11:00Z","v":47867}
],
"last":[{"p":49548.215,"lbl":"49548.215","t1":1633441275000,"t2":1633464225000,"t3":1633441600000}],
"edge":[{"t":1632602420000}]
},
"encoding":{
"x":{"field":"t","type":"temporal","scale":{"type":"utc","domain":[1632602250000,1633440600000]},
"axis":{"orient":"bottom","title":null,"grid":false,"tickCount":200,"values":[1632603600000,1632632400000,1632661200000,1632690000000,1632718800000,1632747600000,1632776400000,1632805200000,1632834000000,1632862800000,1632891600000,1632920400000,1632949200000,1632978000000,1633006800000,1633035600000,1633064400000,1633093200000,1633122000000,1633150800000,1633179600000,1633208400000,1633237200000,1633266000000,1633294800000,1633323600000,1633352400000,1633381200000,1633410000000],
"labelExpr":"utcFormat(datum.value, '%d %H') == '25 21' ? '25 Sep 2021' : utcFormat(datum.value, '%-d %b %H:%M')",
"labelAlign":"left","labelBaseline":"top","labelPadding":1,"labelColor":"#ffffff","labelFontSize":6.6,"labelFont":"Liberation Sans","labelOverlap":false,"labelFlush":false,"labelBound":false,"tickColor":"#a0a0a0","tickSize":3,"domainColor":"#a0a0a0","domainWidth":1}}
},
"layer":[
{"data":{"name":"edge"},"mark":{"type":"rule","color":"#909090","strokeWidth":1},"encoding":{"x":{"field":"t","type":"temporal"}}},
{"data":{"name":"c"},"mark":{"type":"rule","strokeWidth":1,"clip":true},
 "encoding":{"y":{"field":"l","type":"quantitative","scale":{"domain":[40543,50244],"nice":false,"zero":false},
   "axis":{"orient":"right","title":null,"grid":false,"tickCount":200,"values":[49933,49632.04,49321.96,49021,48720.04,48419.08,48118.12,47817.16,47516.2,47215.24,46914.28,46613.32,46312.36,46011.4,45710.44,45409.48,45108.52,44798.44,44497.48,44196.52,43895.56,43594.6,43293.64,42992.68,42691.72,42390.76,42089.8,41788.84,41487.88,41186.92,40885.96,40585],"format":".3f","labelAlign":"left","labelBaseline":"middle","labelPadding":2,"labelColor":"#ffffff","labelFontSize":6.6,"labelFont":"Liberation Sans","labelOverlap":false,"labelBound":false,"tickColor":"#a0a0a0","tickSize":3,"domainColor":"#a0a0a0"}},
  "y2":{"field":"h"},
  "color":{"condition":{"test":"datum.c >= datum.o","value":"#9a9a9a"},"value":"#a00000"}}},
{"data":{"name":"c"},"mark":{"type":"bar","size":3.2,"strokeWidth":0.7,"clip":true},
 "encoding":{"y":{"field":"o","type":"quantitative"},"y2":{"field":"c"},
  "color":{"condition":{"test":"datum.c >= datum.o","value":"#ffffff"},"value":"#ff0000"},
  "stroke":{"condition":{"test":"datum.c >= datum.o","value":"#00b000"},"value":"#ff0000"}}},
{"data":{"name":"b"},"mark":{"type":"line","strokeWidth":1,"clip":true,"interpolate":"linear"},
 "encoding":{"y":{"field":"v","type":"quantitative"},
  "color":{"field":"s","type":"nominal","legend":null,"scale":{"domain":["u","l","m","r"],"range":["#1414c8","#c8c800","#2a9595","#c40000"]}}}},
{"data":{"name":"last"},"mark":{"type":"rule","color":"#8898a8","strokeWidth":1},
 "encoding":{"x":null,"y":{"field":"p","type":"quantitative"}}},
{"data":{"name":"last"},"mark":{"type":"rule","color":"#ffffff","strokeWidth":7,"strokeCap":"butt","clip":false},
 "encoding":{"x":{"field":"t1","type":"temporal"},"x2":{"field":"t2"},"y":{"field":"p","type":"quantitative"}}},
{"data":{"name":"last"},"mark":{"type":"text","color":"#000000","fontSize":6.6,"font":"Liberation Sans","align":"left","baseline":"middle","clip":false},
 "encoding":{"x":{"field":"t3","type":"temporal"},"y":{"field":"p","type":"quantitative"},"text":{"field":"lbl"}}}
]
}
